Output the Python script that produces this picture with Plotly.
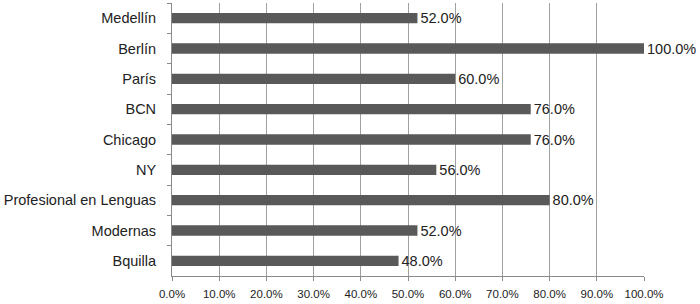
import plotly.graph_objects as go

categories = ["Medellín", "Berlín", "París", "BCN", "Chicago", "NY",
              "Profesional en Lenguas", "Modernas", "Bquilla"]
values = [0.52, 1.00, 0.60, 0.76, 0.76, 0.56, 0.80, 0.52, 0.48]
x_ticks = [0.0, 0.1, 0.2, 0.3, 0.4, 0.5, 0.6, 0.7, 0.8, 0.9, 1.0]

fig = go.Figure(go.Bar(
    y=categories, x=values, orientation="h",
    marker=dict(color="#595959", line=dict(width=0)),
    width=0.34,
    texttemplate="%{x:.1%}", textposition="outside",
    constraintext="none",
    textfont=dict(family="Liberation Sans, Arial", size=14.5, color="#222222"),
    cliponaxis=False,
))

fig.update_layout(
    width=700, height=304,
    margin=dict(l=172, r=56, t=3, b=28),
    plot_bgcolor="white", paper_bgcolor="white",
    showlegend=False,
    font=dict(family="Liberation Sans, Arial", color="#222222"),
)
fig.update_xaxes(
    range=[0, 1], tickvals=x_ticks, tickformat=".1%",
    showgrid=True, gridcolor="#a0a0a0", gridwidth=1,
    showline=True, linecolor="#8a8a8a", linewidth=1,
    ticks="outside", ticklen=4, tickcolor="#8a8a8a",
    tickfont=dict(size=11.5, color="#222222"), zeroline=False,
    ticklabelstandoff=3, automargin=False,
)
fig.update_yaxes(
    autorange="reversed",
    showline=True, linecolor="#8a8a8a", linewidth=1,
    ticks="outside", tickson="boundaries", ticklen=4, tickcolor="#8a8a8a",
    tickfont=dict(size=14.5, color="#222222"), showgrid=False,
    ticklabelstandoff=12, automargin=False,
)

fig.write_html("out.html", config={"displayModeBar": False},
               post_script="document.body.style.margin='0';")
